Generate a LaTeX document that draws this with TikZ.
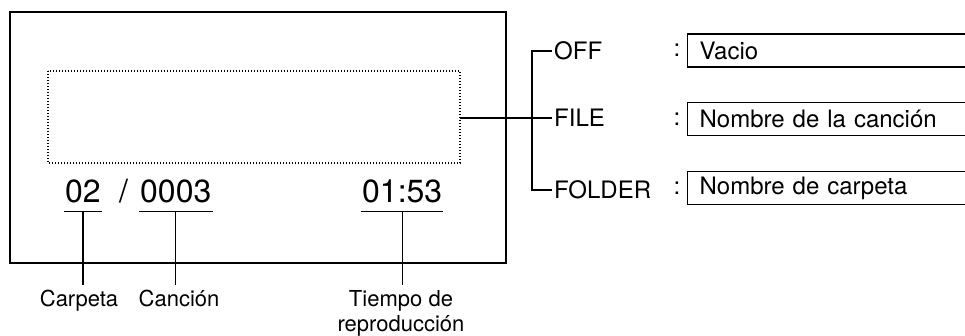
\documentclass[tikz,border=0pt]{standalone}
\usepackage{fontspec}
\setmainfont{TeX Gyre Heros}
\usetikzlibrary{positioning,calc}

\tikzset{
  lbl/.style={font=\fontsize{22}{25}\selectfont, inner xsep=0pt, inner ysep=5pt, anchor=north, align=center},
  num/.style={font=\fontsize{32}{36}\selectfont, inner xsep=1pt, inner ysep=8pt, text depth=0pt, anchor=base west},
  mode/.style={font=\fontsize{24}{28}\selectfont, inner xsep=2pt, inner ysep=0pt, anchor=west},
  valbox/.style={draw, line width=1.2pt, font=\fontsize{24}{28}\selectfont, minimum height=33pt,
                 text width=254pt, inner xsep=12pt, align=left, anchor=west},
  wire/.style={line width=1.3pt}
}

\begin{document}
\begin{tikzpicture}[x=1pt,y=-1pt]
\useasboundingbox (0,0) rectangle (965,336);

\draw[line width=1.9pt] (10,12) rectangle (506,263);
\draw[line width=1.4pt, dash pattern=on 1.4pt off 1.6pt] (48,71) rectangle (460,163);
\coordinate (disp) at (460,118);

% numbers on the display
\node[num] (fold) at (64,203) {02};
\node[num, inner xsep=0pt] (slash) at (119,203) {/};
\node[num] (song) at (139,203) {0003};
\node[num] (time) at (361,203) {01:53};
\foreach \n in {fold,song,time}{\draw[wire] (\n.south west) -- (\n.south east);}

\node[lbl] (lfold) at (79,285) {Carpeta};
\node[lbl] (lsong) at (179,285) {Canción};
\node[lbl] (ltime) at (401,285) {Tiempo de\\reproducción};
\draw[wire] (fold.south) -- (fold.south |- lfold.north);
\draw[wire] (song.south) -- (song.south |- lsong.north);
\draw[wire] (time.south) -- (time.south |- ltime.north);

% modes
\coordinate (split) at (532,118);
\node[mode] (off)    at (552,51)  {OFF};
\node[mode] (file)   at (552,118) {FILE};
\node[mode] (folder) at (552,190) {FOLDER};
\draw[wire] (disp) -- (file.west);
\draw[wire] (off.west) -| (split) |- (folder.west);

\foreach \m/\y/\t in {off/50.5/Vacio, file/119/Nombre de la canción, folder/188/Nombre de carpeta}{
  \node[mode, anchor=center] (c\m) at (677,\y) {:};
  \node[valbox] (v\m) at (687,\y) {\t};
}
\end{tikzpicture}
\end{document}
